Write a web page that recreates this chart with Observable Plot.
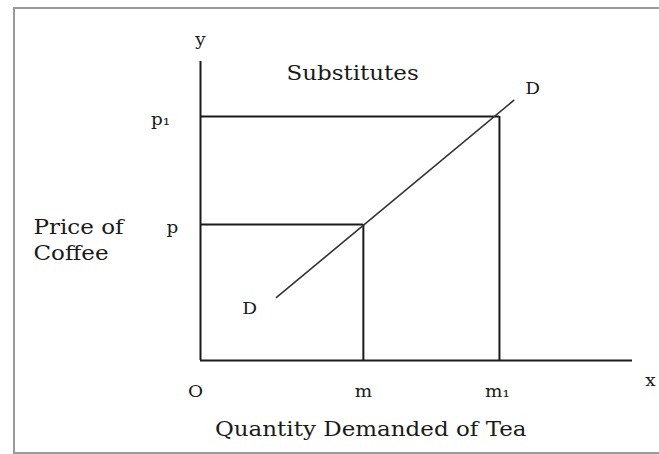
<!DOCTYPE html>
<html>
<head>
<meta charset="utf-8">
<script src="https://cdn.jsdelivr.net/npm/d3@7"></script>
<script src="https://cdn.jsdelivr.net/npm/@observablehq/plot@0.6"></script>
<style>
  html, body { margin: 0; padding: 0; background: #fff; overflow: hidden; width: 659px; height: 454px; }
  #wrap { position: relative; width: 659px; height: 454px; }
  #border { position: absolute; left: 13px; top: 7px; width: 700px; height: 443px; border: 2px solid #9a9a9a; pointer-events: none; }
  svg { position: absolute; left: 0; top: 0; }
</style>
</head>
<body>
<div id="wrap"><div id="border"></div></div>
<script>
// Quantity of tea (x) and price of coffee (y), in arbitrary units
const quantities = [3.77, 6.92];          // m, m1
const quantityLabels = ["m", "m₁"];
const prices = [4.55, 8.16];              // p, p1
const priceLabels = ["p", "p₁"];
const demandX = [1.76, 7.25];             // demand curve D–D end points
const demandY = [2.11, 8.70];
const xTitle = "Quantity Demanded of Tea";
const yTitle = "Price of\nCoffee";
const chartTitle = "Substitutes";

const guides = quantities.map((q, i) => ({q, p: prices[i], ql: quantityLabels[i], pl: priceLabels[i]}));
const demand = demandX.map((x, i) => ({x, y: demandY[i]}));

const font = "DejaVu Serif";
const ink = "#1a1a1a";
const big = 20, small = 16;

const chart = Plot.plot({
  width: 659,
  height: 454,
  marginLeft: 200,
  marginRight: 27,
  marginTop: 61,
  marginBottom: 94,
  style: {fontFamily: font, background: "transparent", color: ink},
  x: {domain: [0, 10], axis: null},
  y: {domain: [0, 10], axis: null},
  marks: [
    // axes
    Plot.ruleX([0], {y1: 0, y2: 10, stroke: ink, strokeWidth: 2}),
    Plot.ruleY([0], {x1: 0, x2: 10, stroke: ink, strokeWidth: 2}),
    // guide lines
    Plot.ruleY(guides, {y: "p", x1: 0, x2: "q", stroke: ink, strokeWidth: 2}),
    Plot.ruleX(guides, {x: "q", y1: 0, y2: "p", stroke: ink, strokeWidth: 2}),
    // demand curve
    Plot.line(demand, {x: "x", y: "y", stroke: "#333", strokeWidth: 1.6}),
    // tick labels
    Plot.text(["O"], {x: 0, y: 0, dx: -5, dy: 31, fontSize: small, fill: ink}),
    Plot.text(guides.slice(0, 1), {x: "q", y: 0, text: "ql", dy: 31, fontSize: small, fill: ink}),
    Plot.text(guides.slice(1), {x: "q", y: 0, text: "ql", dy: 31, dx: -2, fontSize: small, fill: ink}),
    Plot.text(guides.slice(0, 1), {x: 0, y: "p", text: "pl", dx: -28, dy: 3, fontSize: small, fill: ink}),
    Plot.text(guides.slice(1), {x: 0, y: "p", text: "pl", dx: -40, dy: 3, fontSize: small, fill: ink}),
    // axis letters
    Plot.text(["y"], {x: 0, y: 10, dy: -22, fontSize: small, fill: ink}),
    Plot.text(["x"], {x: 10, y: 0, dx: 18, dy: 20, fontSize: small, fill: ink}),
    // D labels
    Plot.text(["D"], {x: demandX[0], y: demandY[0], dx: -27, dy: 11, fontSize: small, fill: ink}),
    Plot.text(["D"], {x: demandX[1], y: demandY[1], dx: 19, dy: -11, fontSize: small, fill: ink}),
    // titles
    Plot.text([chartTitle], {x: 3.52, y: 10, dy: 12, fontSize: big, fill: ink}),
    Plot.text([yTitle], {x: 0, y: 4.06, dx: -167, textAnchor: "start", lineHeight: 1.3, fontSize: big, fill: ink}),
    Plot.text([xTitle], {x: 3.94, y: 0, dy: 69, fontSize: big, fill: ink})
  ]
});
document.getElementById("wrap").prepend(chart);
// widen the glyphs to imitate the broad book face of the original
const stretch = 1.15;
d3.select(chart).selectAll("text").each(function() {
  const spans = this.querySelectorAll("tspan");
  const targets = spans.length ? Array.from(spans) : [this];
  for (const t of targets) {
    const w = t.getComputedTextLength();
    if (w > 0) {
      t.setAttribute("textLength", (w * stretch).toFixed(1));
      t.setAttribute("lengthAdjust", "spacingAndGlyphs");
    }
  }
});
</script>
</body>
</html>
